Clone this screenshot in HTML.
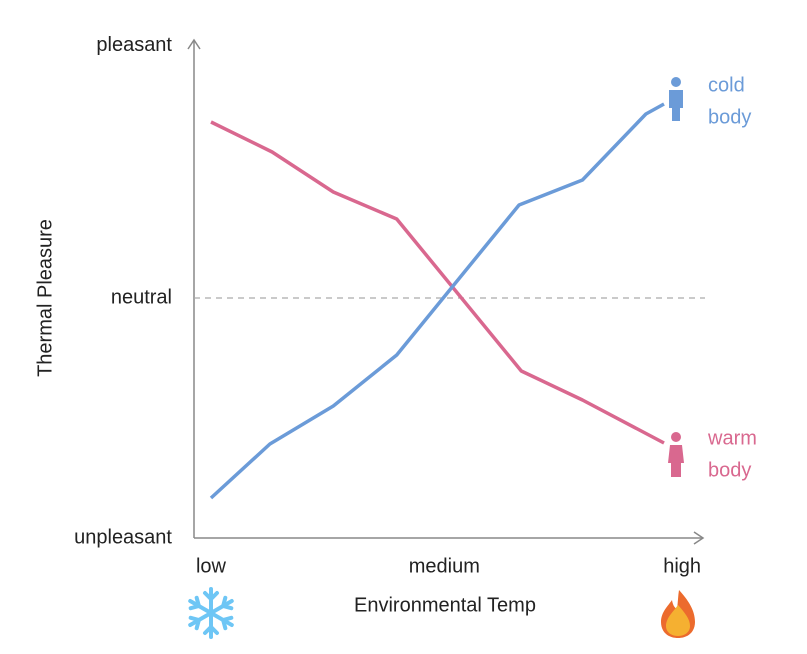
<!DOCTYPE html>
<html><head><meta charset="utf-8"><style>
body{margin:0;background:#fff;}
svg{display:block;font-family:"Liberation Sans",sans-serif;}
</style></head><body>
<svg width="807" height="654" viewBox="0 0 807 654">
<g id="axes">
 <line x1="194" y1="40" x2="194" y2="538" stroke="#888" stroke-width="1.5"/>
 <polyline points="188,49 194,40 200,49" fill="none" stroke="#888" stroke-width="1.5"/>
 <line x1="194" y1="538" x2="703" y2="538" stroke="#888" stroke-width="1.5"/>
 <polyline points="694,532 703,538 694,544" fill="none" stroke="#888" stroke-width="1.5"/>
 <line x1="194" y1="298" x2="705" y2="298" stroke="#aaa" stroke-width="1.2" stroke-dasharray="6,5"/>
 <text x="46" y="298" transform="rotate(-90 46 298)" text-anchor="middle" font-size="20" fill="#222" dominant-baseline="middle">Thermal Pleasure</text>
 <text x="445" y="606" text-anchor="middle" font-size="20" fill="#222" dominant-baseline="middle">Environmental Temp</text>
</g>
<g id="ticks"></g>
<g id="series"></g>
<g>
 <circle cx="676" cy="82" r="5" fill="#6b9bd8"/>
 <path d="M669,90 h14 v18 h-3 v13 h-8 v-13 h-3 z" fill="#6b9bd8"/>
 <text x="708" y="86" font-size="20" fill="#6b9bd8" dominant-baseline="middle">cold</text>
 <text x="708" y="118" font-size="20" fill="#6b9bd8" dominant-baseline="middle">body</text>
</g>
<g>
 <circle cx="676" cy="437" r="5" fill="#d9688f"/>
 <path d="M670,445 h12 l2,18 h-3 v14 h-10 v-14 h-3 z" fill="#d9688f"/>
 <text x="708" y="439" font-size="20" fill="#d9688f" dominant-baseline="middle">warm</text>
 <text x="708" y="471" font-size="20" fill="#d9688f" dominant-baseline="middle">body</text>
</g>
<g stroke="#6ec6f5" stroke-width="4" stroke-linecap="round" fill="none" transform="translate(211,613)">
 <g id="arm"><line x1="0" y1="0" x2="0" y2="-24"/><polyline points="-6,-20 0,-14 6,-20"/></g>
 <use href="#arm" transform="rotate(60)"/><use href="#arm" transform="rotate(120)"/><use href="#arm" transform="rotate(180)"/><use href="#arm" transform="rotate(240)"/><use href="#arm" transform="rotate(300)"/>
</g>
<g>
 <path d="M679,590 C688,600 695,610 695,622 C695,632 688,638 678,638 C668,638 661,632 661,622 C661,612 668,606 672,600 C673,606 675,608 677,609 C678,602 678,596 679,590 Z" fill="#ec6b2d"/>
 <path d="M678,605 C685,613 690,619 690,626 C690,632 685,636 678,636 C671,636 666,632 666,626 C666,618 673,612 678,605 Z" fill="#f5b031"/>
</g>
</svg>
<script>
const xCategories=["low","medium","high"];
const xCategoryPos=[0,5.15,10.4];
const yTickLabels=["pleasant","neutral","unpleasant"];
const yTickValues=[1.01,0,-0.96];
const coldX=[0,1.3,2.7,4.1,6.8,8.2,9.6,10];
const coldY=[-0.8,-0.584,-0.432,-0.228,0.372,0.472,0.736,0.776];
const warmX=[0,1.35,2.7,4.1,6.85,8.2,10];
const warmY=[0.704,0.584,0.424,0.316,-0.292,-0.408,-0.58];
const NS="http://www.w3.org/2000/svg";
function xs(t){return 211+t*45.3;}
function ys(v){return 298-v*250;}
const ticks=document.getElementById('ticks');
xCategories.forEach((c,i)=>{
 const t=document.createElementNS(NS,'text');
 t.setAttribute('x',xs(xCategoryPos[i]));t.setAttribute('y',567);
 t.setAttribute('text-anchor','middle');t.setAttribute('font-size','20');t.setAttribute('fill','#222');t.setAttribute('dominant-baseline','middle');
 t.textContent=c;
 
 
 ticks.appendChild(t);
});
yTickLabels.forEach((c,i)=>{
 const t=document.createElementNS(NS,'text');
 t.setAttribute('x',172);t.setAttribute('y',ys(yTickValues[i]));
 t.setAttribute('text-anchor','end');t.setAttribute('font-size','20');t.setAttribute('fill','#222');t.setAttribute('dominant-baseline','middle');
 t.textContent=c;
 
 
 ticks.appendChild(t);
});
const series=document.getElementById('series');
function line(X,Y,color,name){
 const p=document.createElementNS(NS,'polyline');
 p.setAttribute('points',X.map((x,i)=>xs(x)+','+ys(Y[i])).join(' '));
 p.setAttribute('fill','none');p.setAttribute('stroke',color);p.setAttribute('stroke-width','3.5');p.setAttribute('stroke-linejoin','round');
 
 
 series.appendChild(p);
}
line(warmX,warmY,'#d9688f','warm-body-line');
line(coldX,coldY,'#6b9bd8','cold-body-line');
</script>
</body></html>
